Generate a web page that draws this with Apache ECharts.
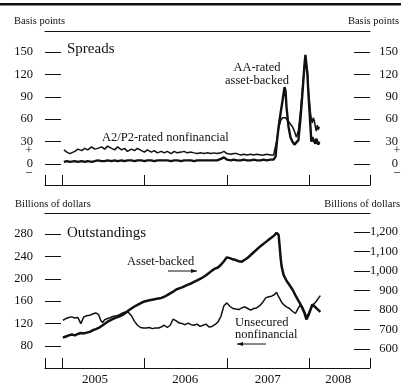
<!DOCTYPE html>
<html>
<head>
<meta charset="utf-8">
<script src="https://cdn.jsdelivr.net/npm/echarts@6/dist/echarts.min.js"></script>
<style>
  html, body { margin: 0; padding: 0; background: #fff; }
  #chart { width: 401px; height: 389px; }
</style>
</head>
<body>
<div id="chart"></div>
<script>
// Time is in decimal years.
const X_MIN = 2004.795;
const X_MAX = 2008.735;
const yearTicks = [2005, 2006, 2007, 2008];
const yearLabelPos = [2005.40, 2006.494, 2007.494, 2008.35];

// Spreads panel (basis points)
const spreadDates = [
  2005.024, 2005.060, 2005.096, 2005.120, 2005.157, 2005.193, 2005.241, 2005.277, 2005.313, 2005.361,
  2005.398, 2005.434, 2005.482, 2005.518, 2005.554, 2005.602, 2005.639, 2005.675, 2005.723, 2005.759,
  2005.795, 2005.843, 2005.880, 2005.916, 2005.964, 2006.000, 2006.036, 2006.084, 2006.120, 2006.157,
  2006.205, 2006.241, 2006.277, 2006.325, 2006.361, 2006.398, 2006.446, 2006.482, 2006.518, 2006.566,
  2006.602, 2006.639, 2006.687, 2006.723, 2006.759, 2006.807, 2006.843, 2006.880, 2006.928, 2006.964,
  2007.000, 2007.048, 2007.084, 2007.120, 2007.169, 2007.205, 2007.241, 2007.289, 2007.325, 2007.361,
  2007.410, 2007.446, 2007.482, 2007.530, 2007.566, 2007.590, 2007.602, 2007.627, 2007.651, 2007.675,
  2007.699, 2007.711, 2007.723, 2007.747, 2007.771, 2007.795, 2007.819, 2007.843, 2007.867, 2007.892,
  2007.916, 2007.940, 2007.952, 2007.964, 2007.976, 2007.988, 2008.012, 2008.024, 2008.036, 2008.048,
  2008.060, 2008.072, 2008.084, 2008.096, 2008.108, 2008.120
];
const a2p2Spread = [
  19, 16, 14, 12, 17, 20, 18, 21, 19, 23,
  20, 21, 23, 20, 24, 21, 19, 23, 19, 21,
  17, 20, 18, 21, 18, 16, 19, 16, 18, 15,
  17, 15, 17, 14, 17, 15, 16, 17, 15, 16,
  15, 14, 15, 14, 15, 14, 15, 14, 15, 17,
  14, 13, 14, 14, 12, 13, 12, 13, 12, 13,
  12, 12, 13, 12, 12, 14, 30, 48, 58, 62,
  63, 62, 60, 57, 55, 50, 44, 36, 45, 70,
  100, 130, 140, 142, 125, 100, 70, 60, 55, 62,
  58, 50, 44, 52, 46, 50
];
const aaAbSpread = [
  3, 4, 3, 3, 4, 3, 4, 3, 4, 3,
  4, 5, 4, 4, 5, 4, 5, 4, 5, 4,
  5, 5, 4, 5, 5, 4, 5, 5, 4, 5,
  5, 5, 5, 4, 5, 5, 4, 5, 5, 5,
  4, 5, 5, 5, 5, 5, 5, 5, 7, 9,
  6, 5, 6, 5, 5, 6, 5, 5, 6, 5,
  5, 6, 5, 6, 6, 10, 25, 50, 68, 85,
  103, 98, 76, 50, 36, 30, 26, 25, 32, 60,
  95, 132, 146, 144, 120, 95, 52, 30, 36, 38,
  30, 27, 34, 30, 26, 30
];

// Outstandings panel (billions of dollars)
const outDates = [
  2005.012, 2005.048, 2005.084, 2005.120, 2005.157, 2005.193, 2005.229, 2005.265, 2005.301, 2005.337,
  2005.373, 2005.410, 2005.446, 2005.470, 2005.494, 2005.518, 2005.554, 2005.590, 2005.627, 2005.663,
  2005.699, 2005.735, 2005.771, 2005.807, 2005.843, 2005.880, 2005.916, 2005.952, 2005.988, 2006.024,
  2006.060, 2006.096, 2006.133, 2006.169, 2006.205, 2006.241, 2006.277, 2006.313, 2006.349, 2006.386,
  2006.422, 2006.458, 2006.494, 2006.530, 2006.566, 2006.602, 2006.639, 2006.675, 2006.711, 2006.747,
  2006.783, 2006.819, 2006.855, 2006.892, 2006.928, 2006.964, 2007.000, 2007.036, 2007.072, 2007.108,
  2007.145, 2007.181, 2007.217, 2007.253, 2007.289, 2007.325, 2007.361, 2007.398, 2007.434, 2007.470,
  2007.506, 2007.542, 2007.578, 2007.602, 2007.614, 2007.627, 2007.639, 2007.651, 2007.663, 2007.687,
  2007.723, 2007.759, 2007.795, 2007.831, 2007.867, 2007.892, 2007.916, 2007.940, 2007.964, 2007.988,
  2008.012, 2008.036, 2008.060, 2008.084, 2008.108, 2008.133
];
// right scale
const assetBackedOut = [
  658, 664, 670, 674, 670, 677, 682, 680, 684, 688,
  696, 702, 708, 714, 722, 730, 740, 748, 756, 762,
  768, 775, 785, 797, 808, 818, 826, 834, 842, 846,
  850, 853, 856, 859, 862, 868, 876, 885, 894, 905,
  911, 916, 924, 930, 936, 944, 952, 960, 968, 978,
  990, 1002, 1012, 1018, 1032, 1050, 1070, 1066, 1060, 1056,
  1050, 1048, 1058, 1068, 1082, 1096, 1110, 1124, 1136, 1148,
  1160, 1172, 1184, 1196, 1200, 1185, 1130, 1070, 1025, 980,
  950, 928, 905, 875, 848, 830, 808, 785, 752, 772,
  800, 828, 822, 810, 800, 790
];
// left scale
const unsecuredOut = [
  126, 129, 131, 132, 130, 131, 120, 132, 134, 135,
  137, 139, 136, 126, 122, 127, 129, 131, 133, 134,
  136, 139, 141, 140, 134, 124, 117, 113, 112, 112,
  113, 111, 112, 112, 114, 117, 113, 117, 128, 125,
  121, 120, 118, 121, 118, 117, 119, 115, 117, 119,
  114, 115, 118, 123, 133, 152, 157, 151, 147, 146,
  145, 148, 150, 147, 144, 147, 148, 152, 158, 166,
  168, 169, 172, 176, 172, 168, 166, 162, 158, 154,
  150, 147, 142, 138, 148, 154, 150, 142, 132, 138,
  145, 151, 156, 160, 165, 170
];

const spreadTicks = [0, 30, 60, 90, 120, 150];
const leftOutTicks = [80, 120, 160, 200, 240, 280];
const rightOutTicks = [600, 700, 800, 900, 1000, 1100, 1200];

const INK = '#111';
const SERIF = 'Liberation Serif, DejaVu Serif, serif';

function pairs(dates, vals) { return dates.map((d, i) => [d, vals[i]]); }

function bottomX(gridIndex, withLabels) {
  return {
    type: 'value', gridIndex, min: X_MIN, max: X_MAX, position: 'bottom',
    axisLine: { show: true, onZero: false, lineStyle: { color: INK, width: 1 } },
    axisTick: { show: true, inside: true, length: 10, customValues: [X_MIN].concat(yearTicks, [X_MAX]), lineStyle: { color: INK, width: 1 } },
    axisLabel: withLabels ? {
      show: true, customValues: yearLabelPos, margin: 5,
      formatter: v => String(Math.floor(v)),
      color: INK, fontFamily: SERIF, fontSize: 13
    } : { show: false },
    splitLine: { show: false }
  };
}
function topX(gridIndex) {
  return {
    type: 'value', gridIndex, min: X_MIN, max: X_MAX, position: 'top',
    axisLine: { show: true, onZero: false, lineStyle: { color: INK, width: 1 } },
    axisTick: { show: false }, axisLabel: { show: false }, splitLine: { show: false }
  };
}
function yAx(gridIndex, side, min, max, ticks, fmt) {
  return {
    type: 'value', gridIndex, position: side, min, max,
    axisLine: { show: false },
    axisTick: { show: true, inside: true, length: 16, customValues: ticks, lineStyle: { color: INK, width: 1 } },
    axisLabel: {
      show: true, customValues: ticks, margin: side === 'left' ? 12 : 28,
      align: 'right', formatter: fmt || (v => String(v)),
      color: INK, fontFamily: SERIF, fontSize: 12.5
    },
    splitLine: { show: false }
  };
}
const thousands = v => v >= 1000 ? Math.floor(v / 1000) + ',' + String(v % 1000).padStart(3, '0') : String(v);

function txt(x, y, text, size, align) {
  return {
    type: 'text', x, y,
    style: { text, fill: INK, font: size + 'px ' + SERIF, textAlign: align || 'left', textVerticalAlign: 'middle' }
  };
}
function arrow(x1, x2, y, headAtRight) {
  const hx = headAtRight ? x2 : x1;
  const d = headAtRight ? -6 : 6;
  return {
    type: 'group', children: [
      { type: 'line', shape: { x1, y1: y, x2, y2: y }, style: { stroke: INK, lineWidth: 1 } },
      { type: 'polygon', shape: { points: [[hx, y], [hx + d, y - 2], [hx + d, y + 2]] }, style: { fill: INK } }
    ]
  };
}

const chart = echarts.init(document.getElementById('chart'), null, { renderer: 'canvas' });
chart.setOption({
  animation: false,
  backgroundColor: '#fff',
  grid: [
    { left: 45, right: 29, top: 31, height: 154 },
    { left: 45, right: 29, top: 213, height: 155 }
  ],
  xAxis: [bottomX(0, false), topX(0), bottomX(1, true), topX(1)],
  yAxis: [
    yAx(0, 'left', -28, 178, spreadTicks),
    yAx(0, 'right', -28, 178, spreadTicks),
    yAx(1, 'left', 40.7, 317.5, leftOutTicks),
    yAx(1, 'right', 502.6, 1297.4, rightOutTicks, thousands)
  ],
  series: [
    { name: 'A2/P2-rated nonfinancial', type: 'line', xAxisIndex: 0, yAxisIndex: 0, showSymbol: false,
      lineStyle: { color: INK, width: 1.5 }, data: pairs(spreadDates, a2p2Spread) },
    { name: 'AA-rated asset-backed', type: 'line', xAxisIndex: 0, yAxisIndex: 0, showSymbol: false,
      lineStyle: { color: INK, width: 2.4 }, data: pairs(spreadDates, aaAbSpread) },
    { name: 'Asset-backed', type: 'line', xAxisIndex: 2, yAxisIndex: 3, showSymbol: false,
      lineStyle: { color: INK, width: 2.5 }, data: pairs(outDates, assetBackedOut) },
    { name: 'Unsecured nonfinancial', type: 'line', xAxisIndex: 2, yAxisIndex: 2, showSymbol: false,
      lineStyle: { color: INK, width: 1.5 }, data: pairs(outDates, unsecuredOut) }
  ],
  graphic: [
    { type: 'rect', shape: { x: 0, y: 3, width: 401, height: 2.5 }, style: { fill: INK } },
    txt(14, 21, 'Basis points', 10.5),
    txt(399, 21, 'Basis points', 10.5, 'right'),
    txt(15, 204, 'Billions of dollars', 10.5),
    txt(400, 204, 'Billions of dollars', 10.5, 'right'),
    txt(67, 49, 'Spreads', 15),
    txt(67, 233, 'Outstandings', 15),
    txt(29, 151, '+', 12, 'center'),
    txt(29, 172, '\u2013', 12, 'center'),
    txt(397, 151, '+', 12, 'center'),
    txt(397, 172, '\u2013', 12, 'center'),
    txt(102, 137.5, 'A2/P2-rated nonfinancial', 12.5),
    txt(257, 68, 'AA-rated', 12.5, 'center'),
    txt(257, 81, 'asset-backed', 12.5, 'center'),
    txt(127, 262, 'Asset-backed', 12.5),
    arrow(168, 197, 271, true),
    txt(235, 323, 'Unsecured', 12.5),
    txt(235, 335, 'nonfinancial', 12.5),
    arrow(237, 266, 344, false)
  ]
});
</script>
</body>
</html>
